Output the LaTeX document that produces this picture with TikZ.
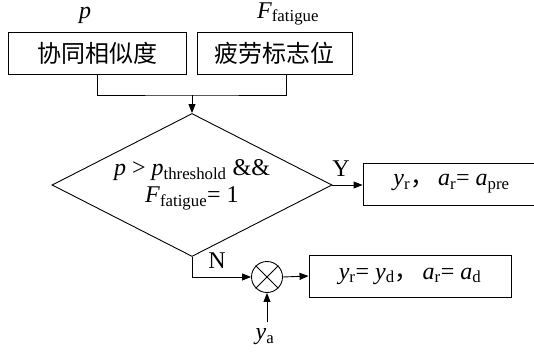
\documentclass[tikz,border=0pt]{standalone}
\usepackage{fontspec}
\setmainfont{Liberation Serif}
\newfontfamily\cjk{Noto Sans CJK SC}
\usetikzlibrary{shapes.geometric,arrows.meta}
% italic variable with an upright subscript
\newcommand{\vsub}[2]{\textit{#1}\textsubscript{#2}}
\newcommand{\zhcomma}{{\cjk ，}}

\begin{document}
\begin{tikzpicture}[x=1pt,y=-1pt,
  every node/.style={font=\fontsize{24}{27}\selectfont},
  box/.style={draw, line width=0.9pt, minimum height=42pt, inner sep=0pt},
  link/.style={line width=0.9pt},
  arr/.style={link, -{Triangle[length=9pt,width=7pt]}}]
\useasboundingbox (0,0) rectangle (534,353);

% input blocks and their signals
\node[box, minimum width=178pt] (sim) at (97,53) {\cjk 协同相似度};
\node[box, minimum width=155pt] (flag) at (274.5,53) {\cjk 疲劳标志位};
\node (pl) at (85,15) {\textit{p}};
\node (fl) at (288,14) {\vsub{F}{fatigue}};

% merge into the decision
\coordinate (j) at (192,95);
\node[draw, diamond, aspect=1.96, minimum width=280pt, minimum height=143pt,
      inner sep=0pt, line width=0.9pt, align=center] (dia) at (192,185)
  {\textit{p} > \vsub{p}{threshold} \&\&\\ \vsub{F}{fatigue}= 1};
\draw[link] (sim.south) |- (j) -| ([xshift=11.5pt]flag.south);
\draw[arr] (j) -- (dia.north);

% Y branch
\node (yl) at (341,169) {Y};
\node[box, minimum width=177pt] (pre) at (451.5,184)
  {\vsub{y}{r}\zhcomma\hspace{4pt}\vsub{a}{r}= \vsub{a}{pre}};
\draw[arr] (dia.east) -- (dia.east -| pre.west);

% N branch with multiplier
\node (nl) at (217,261) {N};
\node[draw, circle, minimum size=31pt, inner sep=0pt, line width=0.9pt] (mul) at (267,277) {};
\draw[link] (mul.north west) -- (mul.south east);
\draw[link] (mul.north east) -- (mul.south west);
\draw[arr] (dia.south) |- (mul.west);
\node[box, minimum width=202pt] (dd) at (410,276)
  {\vsub{y}{r}= \vsub{y}{d}\zhcomma\hspace{4pt}\vsub{a}{r}= \vsub{a}{d}};
\draw[arr] (mul.east) -- (dd.west);

\node (ya) at (265,337) {\vsub{y}{a}};
\coordinate (yin) at (267,322);
\draw[arr] (yin) -- (mul.south);
\end{tikzpicture}
\end{document}
